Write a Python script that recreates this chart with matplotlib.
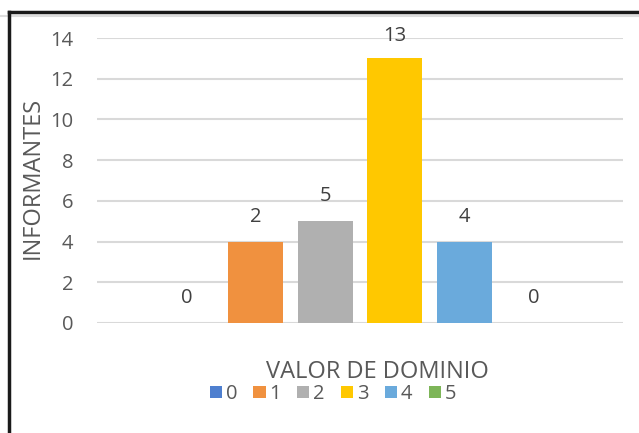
import matplotlib.pyplot as plt
from matplotlib.lines import Line2D

# data
categories = ['0', '1', '2', '3', '4', '5']
heights = [0, 4, 5, 13, 4, 0]
bar_labels = ['0', '2', '5', '13', '4', '0']
colors = ['#4E7FCF', '#F0913F', '#B0B0B0', '#FFC800', '#6AAADC', '#7DB558']
y_ticks = [0, 2, 4, 6, 8, 10, 12, 14]

plt.rcParams['font.family'] = ['Open Sans', 'DejaVu Sans']
txt = '#595959'

fig = plt.figure(figsize=(6.39, 4.33), dpi=100)
ax = fig.add_axes([97 / 639, 1 - 323 / 433, 526 / 639, 285 / 433])

x = list(range(len(categories)))
for i in x:
    ax.bar(i, heights[i], width=0.79, color=colors[i], label=categories[i], zorder=3)
    off = 16 if heights[i] > 10 else 18
    ax.annotate(bar_labels[i], (i, heights[i]), xytext=(0, off), textcoords='offset points',
                ha='center', va='center', fontsize=14.5, color='#404040')

ax.set_xlim(-1.285, 6.285)
ax.set_ylim(0, 14)
ax.set_yticks(y_ticks)
ax.set_xticks([])
ax.yaxis.grid(True, color='#D9D9D9', linewidth=1.5, zorder=0)
for s in ax.spines.values():
    s.set_visible(False)
ax.tick_params(axis='y', length=0, labelsize=14.5, labelcolor=txt, pad=17)

fig.text(33 / 639, 1 - 178 / 433, 'INFORMANTES', rotation=90, ha='center', va='center',
         fontsize=17, color=txt)
fig.text(377 / 639, 1 - 372 / 433, 'VALOR DE DOMINIO', ha='center', va='center',
         fontsize=17, color=txt)

fig.legend(loc='center', bbox_to_anchor=(333 / 639, 1 - 394 / 433), ncol=6, frameon=False,
           fontsize=14.5, labelcolor=txt, handlelength=0.6, handleheight=0.6,
           handletextpad=0.2, columnspacing=0.8, borderpad=0)

# outer frame of the picture
fig.add_artist(Line2D([0, 1], [1 - 16 / 433] * 2, color='#DDDDDD', linewidth=1.5))
fig.add_artist(Line2D([8.5 / 639, 1], [1 - 11.5 / 433] * 2, color='#1A1A1A', linewidth=2.5))
fig.add_artist(Line2D([8.5 / 639] * 2, [0, 1 - 11.5 / 433], color='#1A1A1A', linewidth=2.5))

fig.savefig('out.png', dpi=100)
